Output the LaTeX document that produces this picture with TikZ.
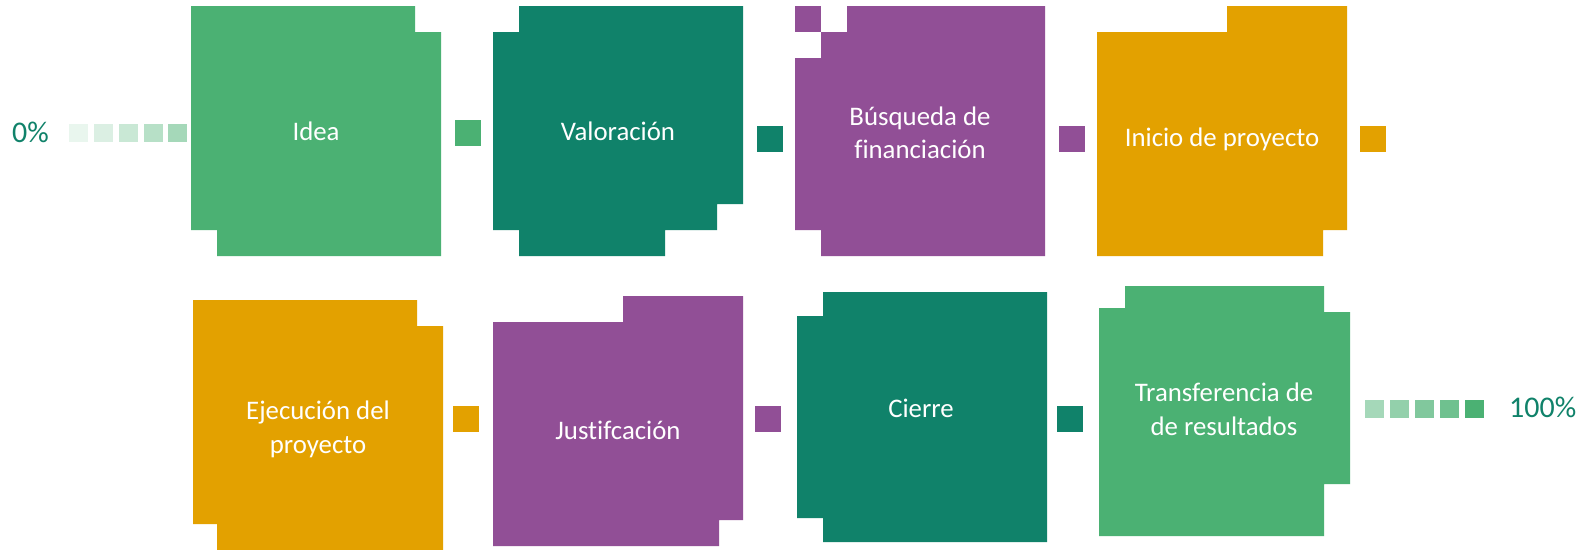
\documentclass[tikz,border=0pt]{standalone}
\usepackage{fontspec}
\setmainfont{Carlito}[Ligatures=NoCommon]
\definecolor{cgreen}{HTML}{4BB173}
\definecolor{cteal}{HTML}{10826A}
\definecolor{cpurple}{HTML}{914F96}
\definecolor{corange}{HTML}{E3A100}
\tikzset{
  lbl/.style={text=white, font=\fontsize{26.8}{33.5}\selectfont, inner sep=0pt, align=center},
  pct/.style={text=cteal, font=\fontsize{30}{36}\selectfont, inner sep=0pt},
  sepbox/.style={minimum size=26pt, inner sep=0pt, outer sep=0pt},
  fadebox/.style={minimum width=19pt, minimum height=18pt, inner sep=0pt, outer sep=0pt, fill=cgreen!#1},
}
\begin{document}
\begin{tikzpicture}[x=1pt,y=-1pt]
\useasboundingbox[fill=white] (0,0) rectangle (1589,549);

% ---------- row 1 ----------
\fill[cgreen] (191,6) -- (415,6) -- (415,32) -- (441,32) -- (441,256) -- (217,256) -- (217,230) -- (191,230) -- cycle;
\fill[cteal] (519,6) -- (743,6) -- (743,204) -- (717,204) -- (717,230) -- (665,230) -- (665,256) -- (519,256) -- (519,230) -- (493,230) -- (493,32) -- (519,32) -- cycle;
\fill[cpurple] (795,6) rectangle (821,32);
\fill[cpurple] (847,6) -- (1045,6) -- (1045,256) -- (821,256) -- (821,230) -- (795,230) -- (795,58) -- (821,58) -- (821,32) -- (847,32) -- cycle;
\fill[corange] (1097,32) -- (1227,32) -- (1227,6) -- (1347,6) -- (1347,230) -- (1323,230) -- (1323,256) -- (1097,256) -- cycle;

\node[lbl, anchor=base] (idea) at (316,140) {Idea};
\node[lbl, anchor=base] (valo) at (618,140) {Valoración};
\node[lbl, anchor=base] (busq) at (920,158.5) {Búsqueda de\\financiación};
\node[lbl, anchor=base] (inic) at (1222,146.5) {Inicio de proyecto};

\node[sepbox, fill=cgreen] (s1) at (468,133) {};
\node[sepbox, fill=cteal] (s2) at (770,139) {};
\node[sepbox, fill=cpurple] (s3) at (1072,139) {};
\node[sepbox, fill=corange] (s4) at (1373,139) {};

% ---------- row 2 ----------
\fill[corange] (193,300) -- (417,300) -- (417,326) -- (443,326) -- (443,550) -- (217,550) -- (217,524) -- (193,524) -- cycle;
\fill[cpurple] (493,322) -- (623,322) -- (623,296) -- (743,296) -- (743,520) -- (719,520) -- (719,546) -- (493,546) -- cycle;
\fill[cteal] (823,292) -- (1047,292) -- (1047,542) -- (823,542) -- (823,518) -- (797,518) -- (797,316) -- (823,316) -- cycle;
\fill[cgreen] (1125,286) -- (1324,286) -- (1324,312) -- (1350,312) -- (1350,484) -- (1324,484) -- (1324,536) -- (1099,536) -- (1099,308) -- (1125,308) -- cycle;

\node[lbl, anchor=base] (ejec) at (318,453.3) {Ejecución del\\proyecto};
\node[lbl, anchor=base] (just) at (618,439.5) {Justifcación};
\node[lbl, anchor=base] (cier) at (921,417.7) {Cierre};
\node[lbl, anchor=base] (tran) at (1224,435.2) {Transferencia de\\de resultados};

\node[sepbox, fill=corange] (s5) at (466,419) {};
\node[sepbox, fill=cpurple] (s6) at (768,419) {};
\node[sepbox, fill=cteal] (s7) at (1070,419) {};

% ---------- progress ----------
\node[pct, anchor=base west] (p0) at (12,142) {0\%};
\node[fadebox=12] (fa1) at (78,133) {};
\node[fadebox=20] (fa2) at (103,133) {};
\node[fadebox=30] (fa3) at (128,133) {};
\node[fadebox=40] (fa4) at (153,133) {};
\node[fadebox=50] (fa5) at (177,133) {};

\node[fadebox=50] (fb1) at (1374.6,409) {};
\node[fadebox=60] (fb2) at (1399.6,409) {};
\node[fadebox=70] (fb3) at (1424,409) {};
\node[fadebox=80] (fb4) at (1449.5,409) {};
\node[fadebox=100] (fb5) at (1474,409) {};
\node[pct, anchor=base west] (p100) at (1509,417.5) {100\%};
\end{tikzpicture}
\end{document}
